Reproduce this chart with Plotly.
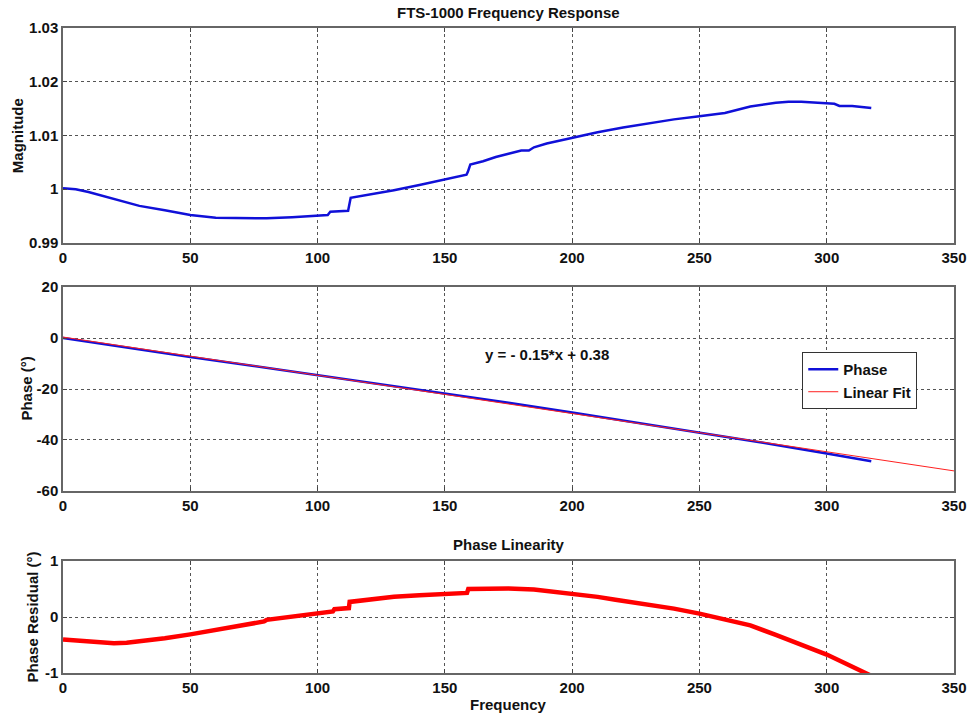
import plotly.graph_objects as go

# ---- Magnitude response ----
mag_freq = [0, 5, 10, 20, 25, 30, 40, 50, 60, 70, 80, 90, 100, 104, 105, 110, 112,
            113, 120, 130, 140, 150, 158.5, 159, 160, 165, 170, 175, 180, 183, 185,
            190, 200, 210, 220, 230, 240, 250, 260, 265, 270, 280, 285, 290, 295,
            300, 303, 305, 310, 317.5]
mag_vals = [1.0002, 1.0000, 0.9995, 0.9982, 0.9975, 0.9969, 0.9961, 0.9952, 0.9947,
            0.9946, 0.9946, 0.9948, 0.9951, 0.9952, 0.9958, 0.9959, 0.9960,
            0.9984, 0.9990, 0.9998, 1.0008, 1.0018, 1.0027, 1.0032, 1.0046, 1.0052,
            1.0060, 1.0066, 1.0072, 1.0072, 1.0078, 1.0085, 1.0096, 1.0106, 1.0115,
            1.0123, 1.0130, 1.0136, 1.0142, 1.0148, 1.0154, 1.0161, 1.0163, 1.0163,
            1.0162, 1.0161, 1.0159, 1.0155, 1.0155, 1.0151]

# ---- Phase response ----
phase_freq = [0, 25, 50, 75, 100, 125, 150, 175, 200, 225, 250, 275, 300, 317.5]
phase_vals = [0.0, -3.83, -7.43, -10.97, -14.55, -18.03, -21.71, -25.36, -29.20,
              -33.11, -37.06, -41.09, -45.29, -48.30]

# Linear fit coefficients (degrees per unit frequency, offset)
fit_slope = -0.15
fit_offset = 0.38
fit_freq = [0, 350]

# ---- Phase residual ----
res_freq = [0, 5, 10, 15, 20, 25, 30, 40, 50, 60, 66, 70, 79, 80, 90, 100, 106,
            106.6, 112.3, 112.6, 118, 130, 140, 150, 158.7, 159.2, 165, 175, 185,
            200, 210, 217, 232, 240, 250, 261, 270, 280, 290, 300, 307, 312, 317.5]
res_vals = [-0.40, -0.42, -0.45, -0.46, -0.47, -0.46, -0.44, -0.38, -0.31, -0.23,
            -0.17, -0.14, -0.08, -0.05, 0.01, 0.07, 0.10, 0.14, 0.16, 0.27, 0.30,
            0.36, 0.39, 0.41, 0.43, 0.50, 0.51, 0.51, 0.49, 0.42, 0.36, 0.31, 0.21,
            0.15, 0.06, -0.05, -0.15, -0.32, -0.50, -0.67, -0.82, -0.92, -1.05]

# ---- Tick labels ----
x_ticks = [0, 50, 100, 150, 200, 250, 300, 350]
x_labels = ["0", "50", "100", "150", "200", "250", "300", "350"]
mag_ticks = [0.99, 1.0, 1.01, 1.02, 1.03]
mag_labels = ["0.99", "1", "1.01", "1.02", "1.03"]
phase_ticks = [-60, -40, -20, 0, 20]
phase_labels = ["-60", "-40", "-20", "0", "20"]
res_ticks = [-1, 0, 1]
res_labels = ["-1", "0", "1"]

FONT = dict(family="Liberation Sans, Arial, sans-serif", size=15, color="#111111",
            weight="bold")

fit_vals = [fit_slope * f + fit_offset for f in fit_freq]

fig = go.Figure()
fig.add_trace(go.Scatter(x=mag_freq, y=mag_vals, mode="lines", xaxis="x", yaxis="y",
                         line=dict(color="#1010d8", width=2.5), showlegend=False))
fig.add_trace(go.Scatter(x=phase_freq, y=phase_vals, mode="lines", xaxis="x2",
                         yaxis="y2", name="Phase",
                         line=dict(color="#1010d8", width=2.5)))
fig.add_trace(go.Scatter(x=fit_freq, y=fit_vals, mode="lines", xaxis="x2",
                         yaxis="y2", name="Linear Fit",
                         line=dict(color="#ff2020", width=1)))
fig.add_trace(go.Scatter(x=res_freq, y=res_vals, mode="lines", xaxis="x3", yaxis="y3",
                         line=dict(color="#ff0000", width=4.5), showlegend=False))

axis_common = dict(showline=True, linecolor="#666666", linewidth=1.5, mirror="ticks",
                   ticks="inside", ticklen=4, tickcolor="#444444",
                   showgrid=True, gridcolor="#555555", griddash="dot", gridwidth=1,
                   zeroline=False, tickfont=FONT)

xa = dict(axis_common, range=[0, 350], tickvals=x_ticks, ticktext=x_labels)

fig.update_layout(
    width=979, height=717,
    margin=dict(l=63, r=12, t=28, b=44),
    paper_bgcolor="white", plot_bgcolor="white",
    font=FONT,
    xaxis=dict(xa, anchor="y"),
    yaxis=dict(axis_common, domain=[0.6667, 1.0], range=[0.99, 1.03],
               tickvals=mag_ticks, ticktext=mag_labels, anchor="x"),
    xaxis2=dict(xa, anchor="y2"),
    yaxis2=dict(axis_common, domain=[0.2822, 0.5984], range=[-60, 20],
                tickvals=phase_ticks, ticktext=phase_labels, anchor="x2"),
    xaxis3=dict(xa, anchor="y3"),
    yaxis3=dict(axis_common, domain=[0.0, 0.1736], range=[-1, 1],
                tickvals=res_ticks, ticktext=res_labels, anchor="x3"),
    legend=dict(x=0.8297, y=0.4977, xanchor="left", yanchor="top",
                bgcolor="white", bordercolor="#333333", borderwidth=1,
                font=FONT, tracegroupgap=0, itemwidth=30),
    showlegend=True,
)

def label(text, x, y, angle=0, xref="paper", yref="paper"):
    return dict(text=text, x=x, y=y, xref=xref, yref=yref, showarrow=False,
                font=FONT, textangle=angle, xanchor="center", yanchor="middle")

annotations = [
    label("FTS-1000 Frequency Response", 0.5, 1.0233),
    label("Phase Linearity", 0.5, 0.2),
    label("Frequency", 0.5, -0.0496),
    label("Magnitude", -0.0509, 0.8333, -90),
    label("Phase (°)", -0.042, 0.4403, -90),
    label("Phase Residual (°)", -0.0343, 0.0868, -90),
    label("y = - 0.15*x + 0.38", 190, -6.3, 0, "x2", "y2"),
]
fig.update_layout(annotations=annotations)

fig.write_html("out.html")
